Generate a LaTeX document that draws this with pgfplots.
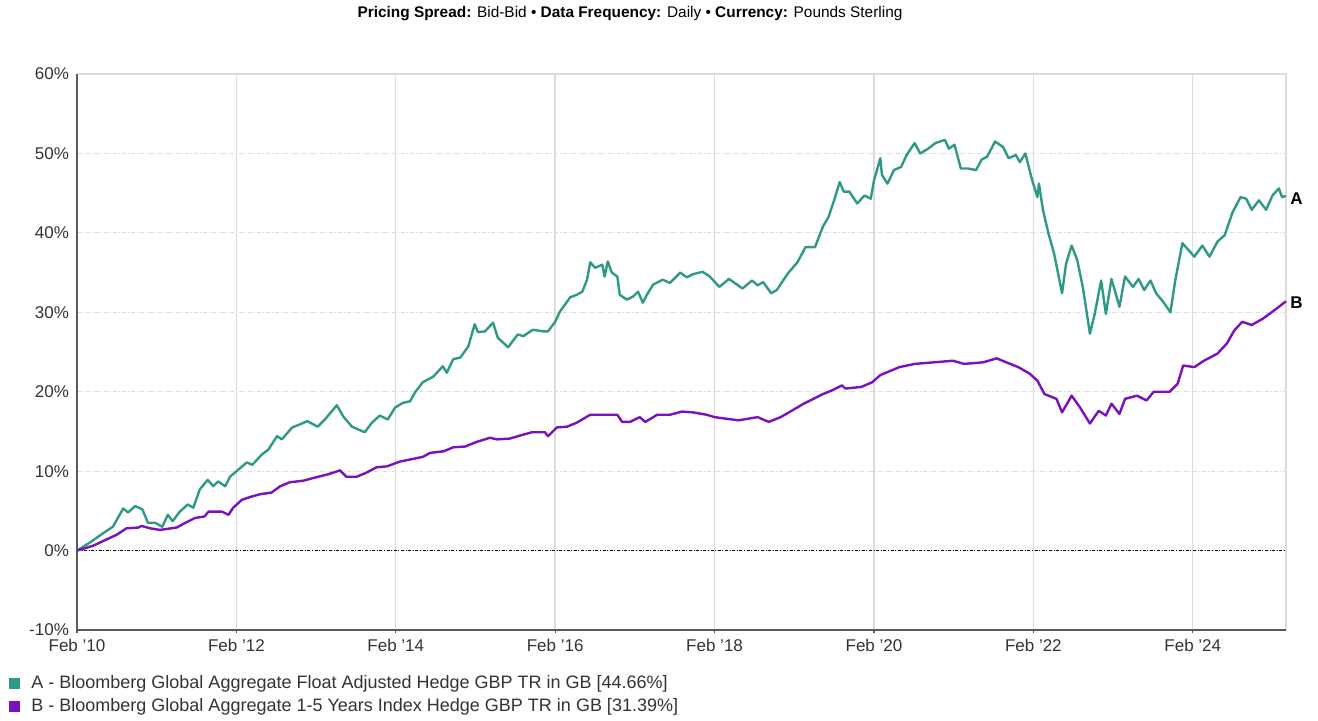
\documentclass[border=0pt]{standalone}
\usepackage{fontspec}
\setmainfont{Liberation Sans}
\usepackage{pgfplots}
\pgfplotsset{compat=1.18}

\definecolor{serA}{HTML}{2E9A85}
\definecolor{serB}{HTML}{7A10BE}
\definecolor{axisdark}{HTML}{5A5A5A}
\definecolor{gridgray}{HTML}{DCDCDC}
\definecolor{labeltext}{HTML}{333333}

% cumulative return (%), x = years since Feb 2010
\pgfplotstableread{
x y
0 0
0.16 1.0
0.33 2.2
0.45 3.0
0.58 5.3
0.64 4.8
0.73 5.6
0.82 5.2
0.89 3.5
0.98 3.5
1.07 3.0
1.14 4.5
1.20 3.7
1.29 4.9
1.39 5.8
1.46 5.4
1.54 7.7
1.64 8.9
1.71 8.1
1.77 8.7
1.86 8.1
1.92 9.3
2.05 10.4
2.13 11.1
2.20 10.8
2.32 12.1
2.40 12.7
2.51 14.4
2.57 14.0
2.70 15.5
2.80 15.9
2.89 16.3
3.02 15.6
3.11 16.5
3.26 18.3
3.34 16.9
3.45 15.6
3.61 14.9
3.70 16.1
3.80 17.0
3.90 16.5
3.99 18.0
4.09 18.6
4.18 18.8
4.24 19.9
4.34 21.2
4.47 21.9
4.59 23.2
4.64 22.4
4.72 24.1
4.81 24.3
4.91 25.7
4.99 28.5
5.03 27.5
5.12 27.6
5.22 28.7
5.28 26.8
5.41 25.6
5.53 27.2
5.60 27.0
5.72 27.8
5.85 27.6
5.91 27.6
6.00 28.8
6.06 30.1
6.19 31.9
6.27 32.2
6.34 32.6
6.40 34.1
6.44 36.3
6.50 35.6
6.59 36.0
6.62 34.5
6.66 36.4
6.71 35.0
6.78 34.5
6.81 32.2
6.90 31.6
6.98 32.0
7.04 32.6
7.10 31.2
7.15 32.2
7.23 33.5
7.35 34.1
7.44 33.7
7.57 35.0
7.65 34.4
7.73 34.8
7.85 35.1
7.94 34.5
8.06 33.2
8.18 34.2
8.35 33.0
8.47 34.0
8.54 33.4
8.61 33.8
8.71 32.4
8.78 32.8
8.92 34.9
9.04 36.3
9.14 38.2
9.26 38.2
9.36 40.8
9.43 42.0
9.50 44.1
9.57 46.4
9.62 45.2
9.69 45.2
9.79 43.7
9.88 44.7
9.96 44.3
10.00 46.6
10.08 49.4
10.10 47.3
10.17 46.2
10.25 47.9
10.34 48.3
10.41 49.8
10.51 51.3
10.58 50.0
10.68 50.6
10.77 51.3
10.89 51.7
10.94 50.6
11.01 51.1
11.09 48.1
11.18 48.1
11.28 47.9
11.35 49.2
11.42 49.6
11.52 51.5
11.62 50.8
11.69 49.4
11.78 49.8
11.83 48.9
11.90 50.0
11.98 46.8
12.05 44.5
12.07 46.2
12.12 42.9
12.19 39.9
12.26 37.4
12.36 32.4
12.41 36.1
12.48 38.4
12.55 36.6
12.62 33.2
12.71 27.3
12.77 29.8
12.85 34.0
12.91 29.8
12.98 34.2
13.08 30.7
13.15 34.5
13.25 33.2
13.32 34.2
13.39 32.8
13.47 34.0
13.54 32.4
13.63 31.3
13.72 30.0
13.78 34.0
13.87 38.7
13.95 37.8
14.02 37.0
14.12 38.4
14.21 37.0
14.31 38.9
14.40 39.7
14.50 42.6
14.60 44.5
14.67 44.3
14.74 42.9
14.83 44.1
14.92 42.9
15.00 44.7
15.08 45.6
15.12 44.5
15.17 44.66
}\seriesA

\pgfplotstableread{
x y
0 0
0.20 0.6
0.37 1.4
0.50 2.0
0.62 2.8
0.77 2.9
0.81 3.1
0.92 2.8
1.04 2.6
1.25 2.9
1.36 3.5
1.48 4.1
1.60 4.3
1.65 4.9
1.82 4.9
1.90 4.5
1.96 5.4
2.07 6.4
2.19 6.8
2.30 7.1
2.44 7.3
2.55 8.1
2.67 8.6
2.84 8.8
2.99 9.2
3.15 9.6
3.30 10.1
3.38 9.3
3.51 9.3
3.63 9.8
3.76 10.5
3.89 10.6
4.05 11.2
4.34 11.8
4.43 12.3
4.60 12.5
4.72 13.0
4.87 13.1
5.02 13.7
5.18 14.2
5.27 14.0
5.43 14.1
5.60 14.6
5.71 14.9
5.87 14.9
5.91 14.4
6.02 15.5
6.15 15.6
6.27 16.1
6.44 17.1
6.65 17.1
6.78 17.1
6.84 16.2
6.94 16.2
7.06 16.8
7.13 16.2
7.28 17.1
7.44 17.1
7.59 17.5
7.73 17.4
7.90 17.1
8.00 16.8
8.30 16.4
8.54 16.8
8.68 16.2
8.83 16.8
9.12 18.5
9.36 19.7
9.48 20.2
9.60 20.8
9.64 20.4
9.84 20.6
9.98 21.2
10.08 22.1
10.32 23.1
10.51 23.5
10.75 23.7
10.99 23.9
11.13 23.5
11.37 23.7
11.54 24.2
11.66 23.7
11.81 23.1
11.95 22.3
12.05 21.4
12.14 19.7
12.29 19.1
12.36 17.4
12.48 19.5
12.58 18.1
12.71 16.0
12.82 17.6
12.91 17.0
12.98 18.5
13.08 17.2
13.15 19.1
13.30 19.5
13.42 18.9
13.51 20.0
13.71 20.0
13.81 21.0
13.88 23.3
14.02 23.1
14.14 23.9
14.31 24.8
14.43 26.1
14.52 27.7
14.62 28.8
14.74 28.4
14.88 29.2
15.03 30.3
15.17 31.39
}\seriesB

\begin{document}
\begin{tikzpicture}
\useasboundingbox (0,0) rectangle (659pt,360pt);

\node[font=\fontsize{7.7}{9}\selectfont, text=black] at (315pt,353pt)
  {\textbf{Pricing Spread:} Bid-Bid \textbullet{} \textbf{Data Frequency:} Daily \textbullet{} \textbf{Currency:} Pounds Sterling};

\begin{axis}[
  at={(38.5pt,45pt)}, anchor=south west,
  scale only axis, width=604.5pt, height=278pt,
  xmin=0, xmax=15.17, ymin=-10, ymax=60,
  xtick={0,2,...,14},
  xticklabels={Feb '10,Feb '12,Feb '14,Feb '16,Feb '18,Feb '20,Feb '22,Feb '24},
  ytick={-10,0,...,60},
  yticklabel={\pgfmathprintnumber{\tick}\%},
  /pgf/number format/assume math mode=true,
  tick label style={font=\fontsize{8.5}{9.5}\selectfont, text=labeltext},
  tick pos=left,
  tick align=outside, major tick length=1.5pt,
  xtick style={draw=axisdark, line width=0.6pt},
  ytick style={draw=none},
  yticklabel style={xshift=1pt},
  xticklabel style={yshift=0.5pt},
  axis line style={draw=none},
  grid=major,
  x grid style={draw=gridgray, line width=0.7pt},
  y grid style={draw=gridgray, line width=0.5pt, dash pattern=on 2pt off 1pt on 0.5pt off 1pt},
  clip=false,
  legend style={at={(-0.062,-0.074)}, anchor=north west, draw=none, fill=none,
    font=\fontsize{9}{10}\selectfont, text=labeltext, row sep=-0.5pt,
    inner sep=0pt, cells={anchor=west}},
  legend cell align=left,
  legend image code/.code={\path[draw=none,fill=none] (0pt,0pt) -- (12.5pt,0pt);\fill[#1, draw=none] (3.2pt,-2.7pt) rectangle (8.6pt,2.7pt);},
]
% box
\draw[gridgray, line width=0.9pt] (rel axis cs:0,1) -- (rel axis cs:1,1) -- (rel axis cs:1,0);
\draw[axisdark, line width=0.8pt] (rel axis cs:0,0) -- (rel axis cs:1,0);
\draw[axisdark, line width=1.1pt] (rel axis cs:0,0) -- (rel axis cs:0,1);
% zero line
\draw[black, line width=0.5pt, dash pattern=on 1.5pt off 0.8pt on 0.5pt off 0.8pt] (axis cs:0,0) -- (axis cs:15.17,0);

\addplot[color=serA, line width=1.2pt, line join=round] table[x=x,y=y] {\seriesA};
\addlegendentry{A - Bloomberg Global Aggregate Float Adjusted Hedge GBP TR in GB [44.66\%]}
\addplot[color=serB, line width=1.2pt, line join=round] table[x=x,y=y] {\seriesB};
\addlegendentry{B - Bloomberg Global Aggregate 1-5 Years Index Hedge GBP TR in GB [31.39\%]}

\node[anchor=west, font=\fontsize{8.5}{9}\selectfont\bfseries, inner sep=2pt] at (axis cs:15.17,44.3) {A};
\node[anchor=west, font=\fontsize{8.5}{9}\selectfont\bfseries, inner sep=2pt] at (axis cs:15.17,31.2) {B};
\end{axis}
\end{tikzpicture}
\end{document}
